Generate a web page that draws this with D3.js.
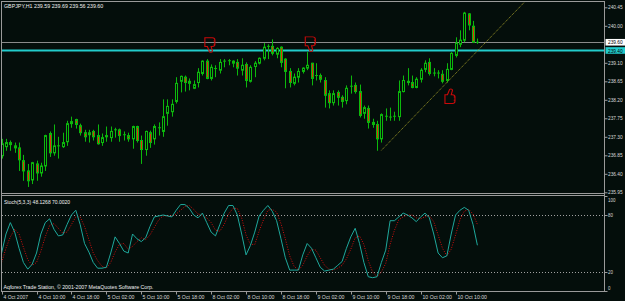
<!DOCTYPE html>
<html><head><meta charset="utf-8">
<script src="https://cdn.jsdelivr.net/npm/d3@7"></script>
<style>html,body{margin:0;padding:0;background:#040e0b;overflow:hidden}svg{display:block}</style>
</head><body><svg id="c" width="625" height="301"></svg>
<script>
const titleText = "GBPJPY,H1 239.59 239.69 239.56 239.60";
const stochTitle = "Stoch(5,3,3) 48.1268 70.0020";
const copyright = "Aqforex Trade Station, © 2001-2007 MetaQuotes Software Corp.";

const opens = [236.84,237.06,237.16,237.08,237.03,236.72,236.47,236.25,236.64,236.42,
236.59,237.38,236.91,237.06,237.06,237.18,237.62,237.72,237.57,237.40,
237.35,237.43,237.33,237.16,237.30,237.28,237.45,237.47,237.33,237.33,
237.25,237.55,237.21,236.99,237.40,237.25,237.52,237.43,237.87,237.91,
238.16,238.65,238.75,238.60,238.48,238.62,238.84,239.14,238.72,238.96,
238.92,239.13,239.14,239.09,239.11,238.92,239.06,238.65,239.01,239.09,
239.21,239.48,239.50,239.31,239.48,239.19,238.89,238.60,238.75,238.89,
238.97,239.09,238.77,238.79,238.67,238.35,238.13,238.38,238.26,238.18,
238.52,238.55,238.40,237.87,237.99,237.65,237.60,237.25,237.80,237.77,
237.78,237.79,238.40,238.62,238.62,238.50,238.70,238.94,239.11,238.84,
238.85,238.82,238.67,238.94,239.28,239.55,239.65,240.29,239.99,239.59];
const highs = [237.25,237.25,237.21,237.16,237.16,236.86,236.64,236.69,236.72,236.67,
237.35,237.43,237.60,237.30,237.40,237.69,237.79,237.74,237.62,237.47,
237.47,237.47,237.60,237.38,237.55,237.55,237.52,237.50,237.43,237.40,
237.57,237.57,237.33,237.45,237.45,237.60,237.65,238.21,238.21,238.21,
238.75,238.79,238.79,238.72,238.67,238.97,239.16,239.19,239.06,239.04,
239.19,239.19,239.19,239.16,239.19,239.21,239.11,239.04,239.14,239.23,
239.58,239.55,239.67,239.48,239.50,239.21,238.97,238.84,238.97,238.99,
239.36,239.10,239.09,238.84,238.75,238.43,238.43,238.43,238.31,238.55,
238.79,238.62,238.57,238.06,238.06,237.74,237.69,237.87,237.99,238.01,
237.91,238.67,238.79,238.97,238.79,238.75,238.97,239.16,239.21,238.97,
238.92,238.92,239.09,239.36,239.72,239.89,240.34,240.31,240.12,239.69];
const lows = [236.77,236.96,236.96,236.91,236.47,236.23,236.08,236.15,236.23,236.33,
236.47,236.81,236.84,236.77,237.03,237.08,237.52,237.50,237.33,237.18,
237.16,237.21,237.11,237.08,237.18,237.18,237.28,237.18,237.21,237.18,
237.01,237.16,236.64,236.84,237.03,237.11,237.33,237.30,237.57,237.79,
238.11,238.38,238.40,238.43,238.46,238.50,238.79,238.70,238.67,238.75,
238.84,238.99,239.04,238.99,238.79,238.79,238.50,238.62,238.75,239.06,
239.16,239.19,239.28,239.21,238.99,238.48,238.50,238.55,238.62,238.84,
238.92,238.55,238.67,238.62,238.01,237.99,238.06,238.06,238.01,238.09,
238.35,238.35,237.77,237.74,237.50,237.52,236.96,237.16,237.69,237.69,
237.69,237.69,238.38,238.55,238.48,238.48,238.62,238.87,238.79,238.77,
238.72,238.60,238.62,238.92,239.23,239.48,239.60,239.89,239.58,239.56];
const closes = [237.13,237.16,237.11,237.03,236.74,236.47,236.23,236.67,236.42,236.59,
237.33,236.91,237.08,237.08,237.16,237.62,237.67,237.60,237.40,237.30,
237.40,237.30,237.13,237.28,237.33,237.43,237.47,237.33,237.35,237.25,
237.55,237.21,236.99,237.43,237.16,237.55,237.52,237.79,238.04,238.09,
238.60,238.77,238.62,238.65,238.57,238.87,239.14,238.72,238.99,238.94,
239.11,239.14,239.15,239.14,238.97,239.04,238.67,238.99,239.09,239.21,
239.48,239.50,239.33,239.45,239.11,238.89,238.62,238.75,238.89,238.97,
239.04,238.72,238.79,238.70,238.31,238.13,238.35,238.26,238.16,238.48,
238.53,238.40,237.82,238.01,237.65,237.60,237.25,237.84,237.79,237.78,
237.80,238.40,238.67,238.65,238.50,238.70,238.92,239.09,238.84,238.85,
238.84,238.65,238.94,239.33,239.58,239.65,240.31,240.02,239.60,239.60];

const stochK = [40,60,72,62,45,30,23,28,40,60,72,76,65,58,59,70,80,85,70,50,
41,30,24,24,25,40,57,50,42,40,60,55,52,56,68,78,79,80,79,78,
85,91,91,87,80,77,82,72,62,58,70,82,90,90,80,60,38,48,62,79,
85,90,84,74,55,35,22,22,22,38,50,45,35,25,21,22,23,27,31,45,
57,66,50,30,15,14,15,30,43,74,74,78,82,80,77,73,78,82,77,60,
40,35,37,60,80,85,88,85,70,48.13];
const stochD = [30,45,57,65,60,46,33,27,30,42,57,69,71,66,61,62,70,78,78,68,
54,40,32,26,24,30,41,49,50,44,47,52,56,54,59,67,75,79,79,79,
81,85,89,90,86,81,80,77,72,64,63,70,81,87,87,77,59,49,49,63,
75,85,86,83,71,55,37,26,22,27,37,44,43,35,27,23,22,24,27,34,
44,56,58,49,32,20,15,20,29,49,64,75,78,80,80,77,76,78,79,73,
59,45,37,44,59,75,84,86,81,70.00];

const priceTicks = [240.45,240.00,239.10,238.65,238.20,237.75,237.30,236.85,236.40,235.95];
const stochTicks = [100,80,20,0];
const stochLevels = [80,20];
const timeTickIdx = [0,8,16,24,32,40,48,56,64,72,80,88,96,104];
const timeTickLabels = ["4 Oct 2007","4 Oct 10:00","4 Oct 18:00","5 Oct 02:00","5 Oct 10:00","5 Oct 18:00",
"8 Oct 02:00","8 Oct 10:00","8 Oct 18:00","9 Oct 02:00","9 Oct 10:00","9 Oct 18:00","10 Oct 02:00","10 Oct 10:00"];
const bidPrice = 239.60;
const levelPrice = 239.40;
const trendLine = [{i:87, p:236.97},{i:120, p:240.60}];
const thumbMarks = [{i:48, p:239.55, dir:"down"},{i:71, p:239.57, dir:"down"},{i:103, p:238.27, dir:"up"}];

const svg = d3.select("#c");
const bg = "#040e0b", frame = "#9a9a9a", txt = "#d8d8d8";
const plotL = 2, plotR = 604.5, mainTop = 1.5, mainBot = 193.5, subTop = 195.5, subBot = 291;
const fontFam = "'Liberation Sans',Arial,sans-serif";
const CH = 2.45;

// text squeezed horizontally to the reference's narrow pixel font
function label(g, tx, ty, s, col, opts={}) {
  const wrap = g.append("g");
  const t = wrap.append("text").attr("x",0).attr("y",0).attr("fill",col)
    .attr("font-size","6.2px").attr("font-family",fontFam).text(s);
  if (opts.dy) t.attr("dy",opts.dy);
  const nat = t.node().getComputedTextLength() || 1;
  const target = s.length*(opts.ch||CH);
  wrap.attr("transform",`translate(${tx},${ty}) scale(${target/nat},1)`);
  return t;
}

const x = d3.scaleLinear().domain([0, 109]).range([1.6, 477.4]);
const y = d3.scaleLinear().domain([235.95, 240.45]).range([192.3, 7.3]);
const ys = d3.scaleLinear().domain([0, 100]).range([291, 196]);

svg.append("rect").attr("width",625).attr("height",301).attr("fill",bg);

const defs = svg.append("defs");
defs.append("clipPath").attr("id","mainClip").append("rect")
  .attr("x",plotL).attr("y",mainTop).attr("width",plotR-plotL).attr("height",mainBot-mainTop);
defs.append("clipPath").attr("id","subClip").append("rect")
  .attr("x",plotL).attr("y",subTop).attr("width",plotR-plotL).attr("height",subBot-subTop);

const main = svg.append("g").attr("clip-path","url(#mainClip)");

main.append("line").attr("x1",plotL).attr("x2",plotR).attr("y1",Math.round(y(bidPrice))+0.5).attr("y2",Math.round(y(bidPrice))+0.5)
  .attr("stroke","#8a8a8a").attr("stroke-width",1);
main.append("line").attr("x1",plotL).attr("x2",plotR).attr("y1",y(levelPrice)).attr("y2",y(levelPrice))
  .attr("stroke","#22cccc").attr("stroke-width",2);

const data = opens.map((o,i)=>({i, o, h:highs[i], l:lows[i], c:closes[i]}));
const cg = main.append("g");
const green = "#0cb80c", red = "#e0300a";
data.forEach(d=>{
  const cx = Math.round(x(d.i)) + 0.5;
  cg.append("line").attr("x1",cx).attr("x2",cx).attr("y1",y(d.h)).attr("y2",y(d.l)).attr("stroke",green).attr("stroke-width",1);
  const top = y(Math.max(d.o,d.c)), bot = y(Math.min(d.o,d.c));
  const hgt = Math.max(1, bot-top);
  if (hgt <= 1.2) {
    cg.append("line").attr("x1",cx-1.5).attr("x2",cx+1.5).attr("y1",top).attr("y2",top).attr("stroke",green).attr("stroke-width",1);
  } else {
    cg.append("rect").attr("x",cx-1).attr("y",top).attr("width",2).attr("height",hgt)
      .attr("fill", d.c >= d.o ? bg : red).attr("stroke",green).attr("stroke-width",1);
  }
});

main.append("line")
  .attr("x1",x(trendLine[0].i)).attr("y1",y(trendLine[0].p))
  .attr("x2",x(trendLine[1].i)).attr("y2",y(trendLine[1].p))
  .attr("stroke","#a09a28").attr("stroke-width",1).attr("stroke-dasharray","1,1");

const thumbDown = "M-5,-6 h6 a2,2 0 0 1 2,2 v4 a2,2 0 0 1 -2,2 h-1 l1,4 a1.3,1.3 0 0 1 -2.6,0 l-1.4,-4 h-2 z M-5,-6 v8 M2,-3 h1.5 M2,0 h1.5";
thumbMarks.forEach(m=>{
  const g = main.append("g").attr("transform",`translate(${x(m.i)},${y(m.p)}) scale(1.25,${m.dir==="up" ? -1.1 : 1.1})`);
  g.append("path").attr("d",thumbDown).attr("fill","none").attr("stroke","#c80a0a").attr("stroke-width",0.9);
});

const sub = svg.append("g").attr("clip-path","url(#subClip)");
stochLevels.forEach(v=>{
  sub.append("line").attr("x1",plotL).attr("x2",plotR).attr("y1",Math.round(ys(v))+0.5).attr("y2",Math.round(ys(v))+0.5)
    .attr("stroke","#a0a0a0").attr("stroke-width",1).attr("stroke-dasharray","1,2");
});
const lineK = d3.line().x((d,i)=>x(i)).y(d=>ys(d));
sub.append("path").attr("d",lineK(stochD)).attr("fill","none").attr("stroke","#d01010").attr("stroke-width",1).attr("stroke-dasharray","1,1.5");
sub.append("path").attr("d",lineK(stochK)).attr("fill","none").attr("stroke","#1fa89c").attr("stroke-width",1);

const fr = svg.append("g").attr("stroke",frame).attr("stroke-width",1).attr("fill","none");
fr.append("line").attr("x1",1.5).attr("x2",1.5).attr("y1",1).attr("y2",subBot);
fr.append("line").attr("x1",1).attr("x2",605).attr("y1",1.5).attr("y2",1.5);
fr.append("line").attr("x1",1).attr("x2",605).attr("y1",mainBot).attr("y2",mainBot);
fr.append("line").attr("x1",1).attr("x2",605).attr("y1",subTop).attr("y2",subTop);
fr.append("line").attr("x1",1).attr("x2",605).attr("y1",subBot+0.5).attr("y2",subBot+0.5);
fr.append("line").attr("x1",plotR).attr("x2",plotR).attr("y1",1).attr("y2",subBot+1);

const pAxis = d3.axisRight(y).tickValues(priceTicks).tickSize(3).tickFormat(()=>"");
const pa = svg.append("g").attr("transform",`translate(${plotR},0)`).call(pAxis);
pa.select(".domain").remove();
pa.selectAll("line").attr("stroke",frame);
priceTicks.forEach(p=>label(svg, plotR+3.5, y(p), d3.format(".2f")(p), txt, {dy:"0.35em"}));

[[bidPrice,"#ffffff"],[levelPrice,"#22cccc"]].forEach(([p,col])=>{
  const yy = y(p);
  svg.append("rect").attr("x",plotR+1).attr("y",yy-3.3).attr("width",20).attr("height",6.6).attr("fill",col);
  label(svg, plotR+3.5, yy, d3.format(".2f")(p), "#000", {dy:"0.35em"});
});

const sAxis = d3.axisRight(ys).tickValues(stochTicks).tickSize(3).tickFormat(()=>"");
const sa = svg.append("g").attr("transform",`translate(${plotR},0)`).call(sAxis);
sa.select(".domain").remove();
sa.selectAll("line").attr("stroke",frame);
stochTicks.forEach(v=>label(svg, plotR+3.5, ys(v), String(v), txt, {dy: v===100 ? "0.95em" : v===0 ? "-0.1em" : "0.35em"}));

const tg = svg.append("g");
timeTickIdx.forEach((ti,k)=>{
  const tx = Math.round(x(ti))+0.5;
  tg.append("line").attr("x1",tx).attr("x2",tx).attr("y1",subBot+1).attr("y2",subBot+3.5).attr("stroke",frame);
  label(tg, Math.max(3, tx+1), 299, timeTickLabels[k], txt);
});

label(svg, 4, 8.3, titleText, "#f0f0f0", {ch:2.68});
label(svg, 4, 204.3, stochTitle, "#f0f0f0", {ch:2.36});
label(svg, 3.5, 289.3, copyright, "#f0f0f0", {ch:2.5});
</script></body></html>
